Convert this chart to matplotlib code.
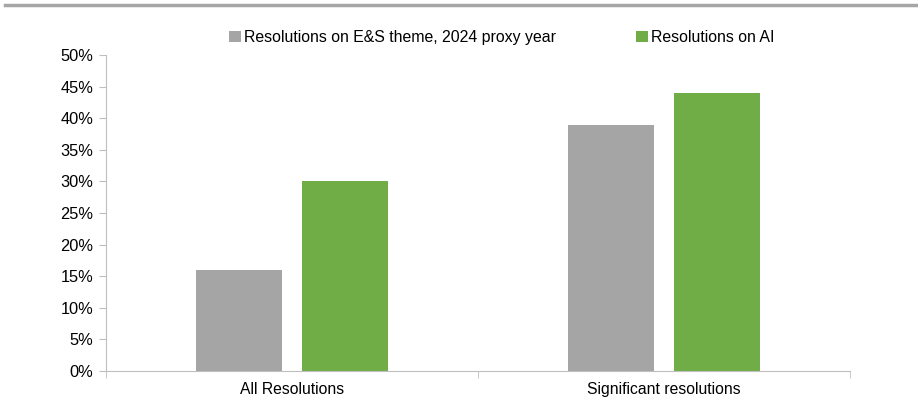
import matplotlib.pyplot as plt
import numpy as np
from matplotlib.ticker import FuncFormatter, FixedLocator

plt.rcParams['font.family'] = ['Liberation Sans', 'DejaVu Sans']

categories = ['All Resolutions', 'Significant resolutions']
es_theme = [16, 39]
ai_res = [30, 44]
series_labels = ['Resolutions on E&S theme, 2024 proxy year', 'Resolutions on AI']

fig = plt.figure(figsize=(9.18, 4.01), dpi=100)
ax = fig.add_axes([106 / 918, 30 / 401, 744 / 918, 316 / 401])

x = np.arange(len(categories))
w = 0.23
off = 0.142
ax.bar(x - off, es_theme, w, color='#a5a5a5', label=series_labels[0])
ax.bar(x + off, ai_res, w, color='#70ad47', label=series_labels[1])

ax.set_xlim(-0.5, 1.5)
ax.set_ylim(0, 50)
ax.set_yticks(np.arange(0, 51, 5))
ax.yaxis.set_major_formatter(FuncFormatter(lambda v, p: f'{v:.0f}%'))
ax.set_xticks(x)
ax.set_xticklabels(categories)
ax.xaxis.set_minor_locator(FixedLocator([-0.5, 0.5, 1.5]))
ax.tick_params(axis='x', which='major', length=0, pad=8, labelsize=11.3, colors='#000000')
ax.tick_params(axis='x', which='minor', length=5, color='#bfbfbf')
ax.tick_params(axis='y', length=5, color='#bfbfbf', labelsize=11.8, pad=4)

for s in ['top', 'right']:
    ax.spines[s].set_visible(False)
for s in ['left', 'bottom']:
    ax.spines[s].set_color('#bfbfbf')

ax.legend(loc='upper center', bbox_to_anchor=(0.532, 1.125), ncol=2, frameon=False,
          fontsize=11.4, handlelength=0.7, handleheight=0.7, handletextpad=0.2,
          columnspacing=5.1)

fig.add_artist(plt.Line2D([5 / 918, 1], [396 / 401, 396 / 401], color='#a6a6a6', lw=2.5))

plt.savefig('out.png', dpi=100)
